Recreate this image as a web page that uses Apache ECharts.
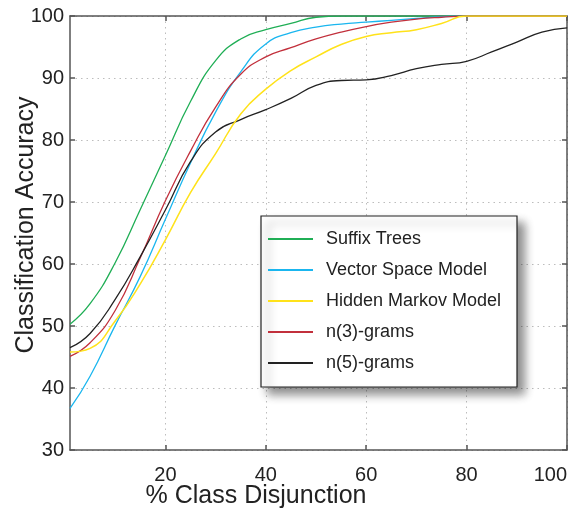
<!DOCTYPE html>
<html>
<head>
<meta charset="utf-8">
<script src="https://cdn.jsdelivr.net/npm/echarts@6/dist/echarts.min.js"></script>
<style>
html,body{margin:0;padding:0;background:#fff;}
#chart{width:576px;height:517px;}
</style>
</head>
<body>
<div id="chart"></div>
<script>
// ---- data ----
var xValues = [1, 5, 10, 15, 20, 25, 30, 35, 40, 45, 50, 55, 60, 65, 70, 75, 80, 85, 90, 95, 100];
var suffixTrees = [50.3, 53.6, 60.2, 68.8, 77.5, 86.2, 92.8, 96.3, 97.8, 98.8, 99.8, 100, 100, 100, 100, 100, 100, 100, 100, 100, 100];
var vectorSpace = [36.7, 41.9, 50.1, 58.0, 67.2, 76.3, 84.5, 91.0, 95.5, 97.3, 98.2, 98.7, 99.0, 99.3, 99.6, 99.9, 100, 100, 100, 100, 100];
var hiddenMarkov = [45.8, 46.4, 50.8, 56.8, 63.9, 71.5, 77.8, 84.2, 88.2, 91.2, 93.4, 95.4, 96.7, 97.3, 97.8, 98.8, 100, 100, 100, 100, 100];
var ngram3 = [45.1, 47.3, 52.5, 61.0, 70.2, 78.2, 85.3, 90.6, 93.4, 94.9, 96.3, 97.4, 98.3, 99.0, 99.5, 99.8, 100, 100, 100, 100, 100];
var ngram5 = [46.5, 48.8, 54.3, 61.2, 68.7, 76.5, 81.3, 83.3, 84.9, 86.7, 88.8, 89.6, 89.7, 90.4, 91.5, 92.2, 92.7, 94.2, 95.8, 97.4, 98.1];
var xTicks = [20, 40, 60, 80, 100];
var seriesNames = ['Suffix Trees', 'Vector Space Model', 'Hidden Markov Model', 'n(3)-grams', 'n(5)-grams'];

function pairs(ys) { return xValues.map(function (x, i) { return [x, ys[i]]; }); }

var font = "'Liberation Sans', Arial, sans-serif";
var axisColor = '#555';
var gridColor = '#bdbdbd';

var chart = echarts.init(document.getElementById('chart'), null, {renderer: 'canvas'});

function lineSeries(name, ys, color, width) {
  return {
    name: name, type: 'line', data: pairs(ys), smooth: 0.5,
    showSymbol: false, symbol: 'none',
    lineStyle: {color: color, width: width || 1.3},
    itemStyle: {color: color},
    xAxisIndex: 0, yAxisIndex: 0, animation: false
  };
}

var option = {
  animation: false,
  backgroundColor: '#fff',
  grid: {left: 70, right: 9, top: 16, bottom: 67, containLabel: false, outerBoundsMode: 'none'},
  xAxis: [{
    type: 'value', min: 1, max: 100, position: 'bottom',
    axisLine: {show: true, lineStyle: {color: axisColor, width: 1.5}},
    axisTick: {show: true, inside: true, length: 5, customValues: xTicks, lineStyle: {color: axisColor, width: 1.5}},
    axisLabel: {customValues: xTicks, margin: 15, color: '#222', fontSize: 20, fontFamily: font, alignMaxLabel: 'right'},
    splitLine: {show: true, lineStyle: {color: gridColor, type: [1.5, 4], width: 1}}
  }, {
    type: 'value', min: 1, max: 100, position: 'top',
    axisLine: {show: true, lineStyle: {color: axisColor, width: 1.5}},
    axisTick: {show: true, inside: true, length: 5, customValues: xTicks, lineStyle: {color: axisColor, width: 1.5}},
    axisLabel: {show: false},
    splitLine: {show: false}
  }],
  yAxis: [{
    type: 'value', min: 30, max: 100, interval: 10, position: 'left',
    axisLine: {show: true, lineStyle: {color: axisColor, width: 1.5}},
    axisTick: {show: true, inside: true, length: 5, lineStyle: {color: axisColor, width: 1.5}},
    axisLabel: {margin: 6, color: '#222', fontSize: 20, fontFamily: font},
    splitLine: {show: true, lineStyle: {color: gridColor, type: [1.5, 4], width: 1}}
  }, {
    type: 'value', min: 30, max: 100, interval: 10, position: 'right',
    axisLine: {show: true, lineStyle: {color: axisColor, width: 1.5}},
    axisTick: {show: true, inside: true, length: 5, lineStyle: {color: axisColor, width: 1.5}},
    axisLabel: {show: false},
    splitLine: {show: false}
  }],
  legend: {
    orient: 'vertical', left: 268, top: 229, padding: 0, itemGap: 11,
    itemWidth: 45, itemHeight: 2, icon: 'rect', z: 10,
    data: seriesNames,
    textStyle: {fontSize: 18, fontFamily: font, color: '#222', lineHeight: 20, padding: [0, 0, 0, 8]}
  },
  graphic: [{
    type: 'rect', z: 8,
    shape: {x: 261, y: 216, width: 256, height: 171},
    style: {fill: '#fff', stroke: '#222', lineWidth: 1.2,
      shadowBlur: 9, shadowOffsetX: 7, shadowOffsetY: 7, shadowColor: 'rgba(0,0,0,0.45)'}
  }, {
    type: 'text', z: 10, x: 26, y: 225, rotation: Math.PI / 2,
    style: {text: 'Classification Accuracy', fill: '#222', fontSize: 25,
      fontFamily: font, align: 'center', verticalAlign: 'middle'}
  }, {
    type: 'text', z: 10, x: 256, y: 496,
    style: {text: '% Class Disjunction', fill: '#222', fontSize: 25,
      fontFamily: font, align: 'center', verticalAlign: 'middle'}
  }],
  series: [
    lineSeries(seriesNames[0], suffixTrees, '#1fae55'),
    lineSeries(seriesNames[1], vectorSpace, '#1ab6ef'),
    lineSeries(seriesNames[3], ngram3, '#c2303c'),
    lineSeries(seriesNames[4], ngram5, '#222222'),
    lineSeries(seriesNames[2], hiddenMarkov, '#ffe21a', 1.5)
  ]
};
chart.setOption(option);
</script>
</body>
</html>
